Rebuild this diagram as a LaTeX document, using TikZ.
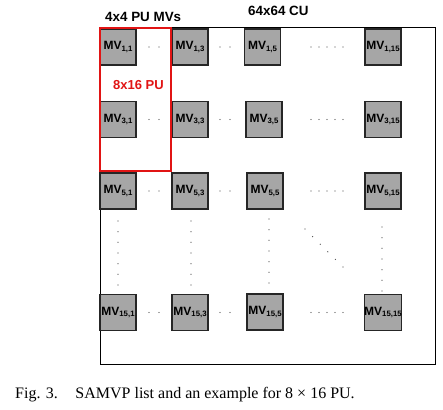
\documentclass[tikz,border=0pt]{standalone}
\usepackage{fontspec}
\setmainfont{Liberation Serif}
\newfontfamily\arialfont{Liberation Sans}
\newcommand{\mvlab}[1]{{\arialfont\bfseries\fontsize{12}{13}\selectfont MV\raisebox{-1.8pt}{\fontsize{7.8}{8}\selectfont #1}}}
\definecolor{boxgray}{RGB}{166,166,166}
\definecolor{pured}{RGB}{225,20,20}
\tikzset{
  mvbox/.style={draw=black!85, line width=1.1pt, fill=boxgray, minimum width=36pt, minimum height=36pt, inner sep=0pt},
  dotmark/.style={fill=black!70, draw=none, circle, inner sep=0pt, minimum size=1.3pt},
  hdr/.style={font=\arialfont\bfseries\fontsize{13.4}{15}\selectfont, inner sep=0pt},
}
\begin{document}
\begin{tikzpicture}[x=1pt,y=-1pt]
\useasboundingbox (0,0) rectangle (443,409);
\fill[white] (0,0) rectangle (443,409);
% outer CU
\draw[line width=1pt] (100,28) rectangle (435,364);
% boxes
\node[mvbox] (m11) at (118,47) {\mvlab{1,1}};
\node[mvbox] (m13) at (190,47) {\mvlab{1,3}};
\node[mvbox] (m15) at (262.5,47) {\mvlab{1,5}};
\node[mvbox] (m115) at (383,47) {\mvlab{1,15}};
\node[mvbox] (m31) at (118,119.5) {\mvlab{3,1}};
\node[mvbox] (m33) at (190,119.5) {\mvlab{3,3}};
\node[mvbox] (m35) at (264,119.5) {\mvlab{3,5}};
\node[mvbox] (m315) at (383,119.5) {\mvlab{3,15}};
\node[mvbox] (m51) at (118,191) {\mvlab{5,1}};
\node[mvbox] (m53) at (190,191) {\mvlab{5,3}};
\node[mvbox] (m55) at (265,191) {\mvlab{5,5}};
\node[mvbox] (m515) at (383,191) {\mvlab{5,15}};
\node[mvbox] (m151) at (118,312.5) {\mvlab{15,1}};
\node[mvbox] (m153) at (190,312.5) {\mvlab{15,3}};
\node[mvbox] (m155) at (265,312) {\mvlab{15,5}};
\node[mvbox] (m1515) at (383,312.5) {\mvlab{15,15}};
% red PU
\draw[pured, line width=2pt] (99.5,28.5) rectangle (171,171);
\node[font=\arialfont\bfseries\fontsize{13}{15}\selectfont, text=pured, inner sep=0pt] (pu) at (138.5,85) {8x16 PU};
% headers
\node[hdr, anchor=west] (h1) at (105,17) {4x4 PU MVs};
\node[hdr, anchor=west] (h2) at (248,11) {64x64 CU};
% horizontal dots
\foreach \y in {47,119.5,191,312.5}{
  \foreach \x in {149,159,220,230} { \node[dotmark] at (\x,\y) {}; }
  \foreach \x in {311,319,327,335,343} { \node[dotmark] at (\x,\y) {}; }
}
% vertical dots
\foreach \x/\ya/\yb in {118/221/285, 191/221/285, 269/219/283, 382/227/291}{
  \foreach \i in {0,...,6} { \node[dotmark] at (\x,{\ya+\i*(\yb-\ya)/6}) {}; }
}
% diagonal dots
\foreach \i in {0,...,5} { \node[dotmark] at ({305+\i*7.6},{229+\i*7.6}) {}; }
% caption
\node[anchor=west, inner sep=0pt, font=\fontsize{16}{18}\selectfont] (cap) at (15,395) {Fig. 3.\hspace{1.1em}SAMVP list and an example for 8 × 16 PU.};
\end{tikzpicture}
\end{document}
